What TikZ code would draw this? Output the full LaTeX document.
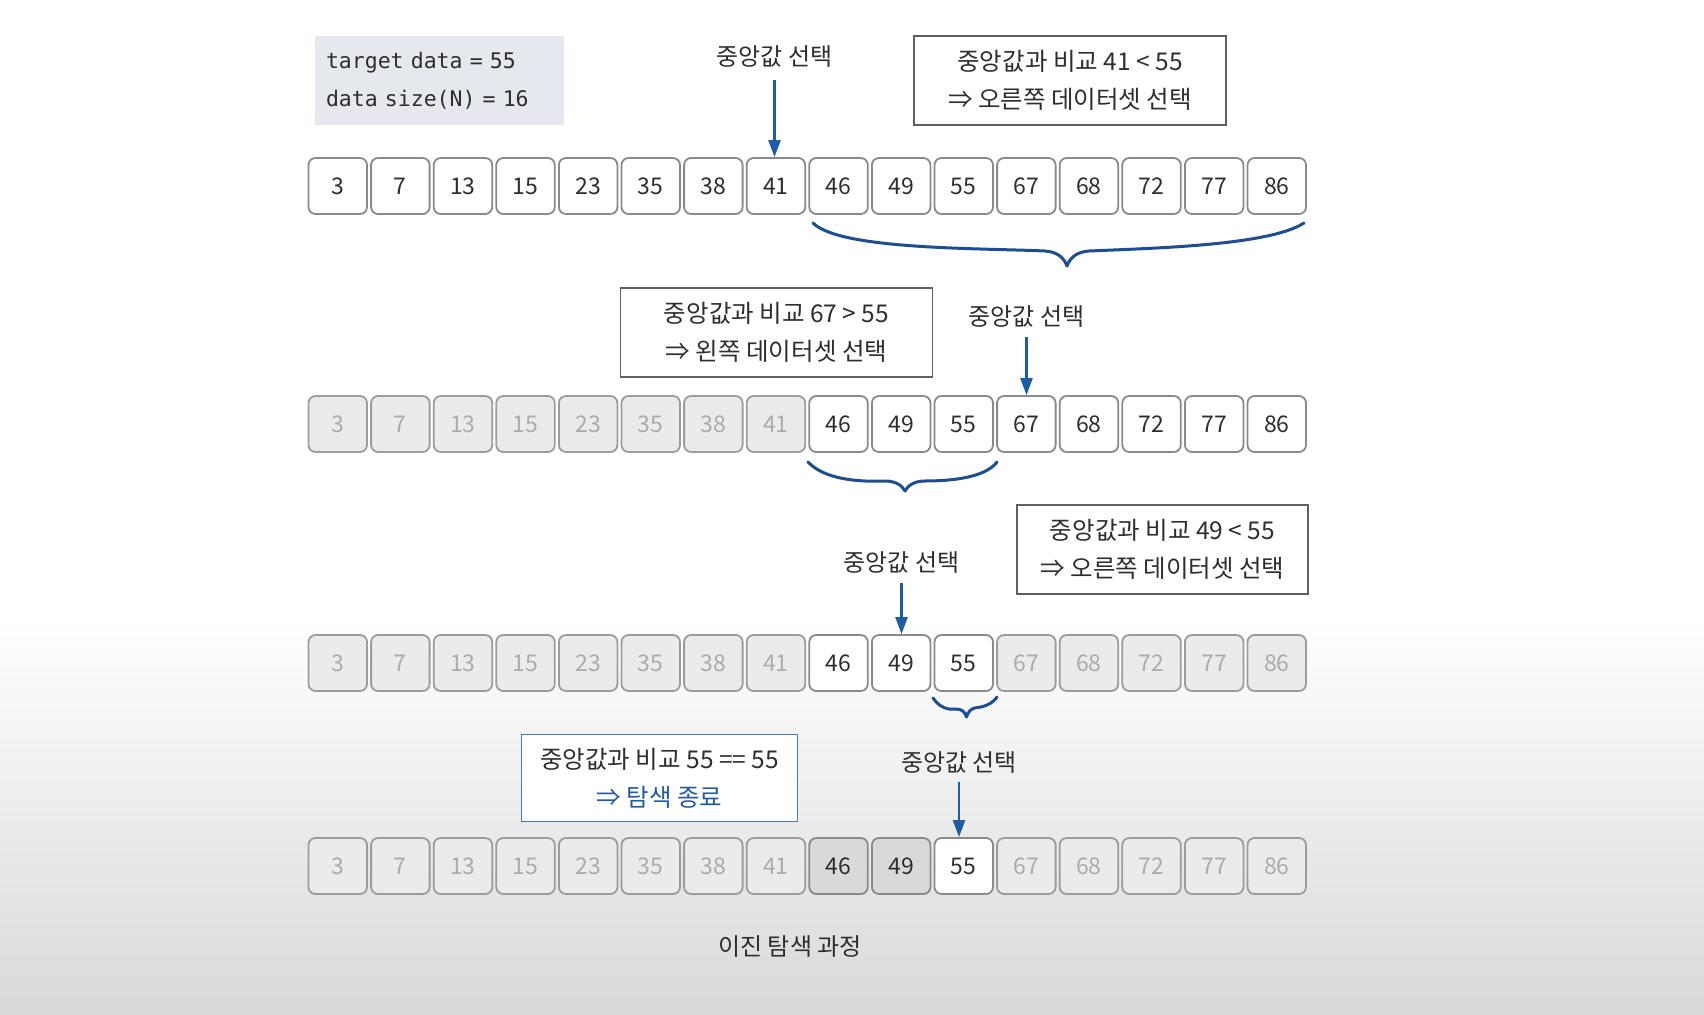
\documentclass[tikz,border=0pt]{standalone}
\usepackage{fontspec}
\setmainfont{Noto Sans CJK KR}
\newfontfamily\monof[WordSpace={1,0,0}]{DejaVu Sans Mono}
\usetikzlibrary{arrows.meta}
\definecolor{txt}{HTML}{2E2E2E}
\definecolor{bl}{HTML}{1F5CA6}
\definecolor{brc}{HTML}{1E4E92}
\definecolor{cellline}{HTML}{8A8A8A}
\definecolor{dimfill}{HTML}{EBEBEB}
\definecolor{dimtxt}{HTML}{ABABAB}
\definecolor{midfill}{HTML}{D9D9D9}
\definecolor{infofill}{HTML}{E6E8F0}
\definecolor{notebl}{HTML}{4A78B0}
\begin{document}
\begin{tikzpicture}[x=1pt,y=-1pt,
  cellw/.style={draw=cellline,line width=1.8pt,rounded corners=7pt,fill=white,
    minimum width=58.5pt,minimum height=56pt,inner sep=0pt,text=txt,
    font=\fontsize{23}{23}\selectfont},
  dim/.style={cellw,fill=dimfill,text=dimtxt,draw=cellline!85},
  mid/.style={cellw,fill=midfill},
  note/.style={draw=gray!75!black,line width=1.3pt,fill=white,align=center,
    inner sep=0pt,text=txt,font=\fontsize{24.5}{38}\selectfont},
  lbl/.style={inner sep=0pt,text=txt,font=\fontsize{24}{24}\selectfont},
  barrow/.style={draw=bl,line width=2.4pt,-{Triangle[length=17pt,width=12pt]}},
  brace/.style={draw=brc,line width=3pt,line cap=round,line join=round}]
\useasboundingbox (0,0) rectangle (1704,1014);
\fill[white] (0,0) rectangle (1704,1014);
\shade[top color=white,bottom color=black!15] (0,620) rectangle (1704,1014);

% info box
\node[fill=infofill,minimum width=249pt,minimum height=89pt,inner xsep=11pt,
  text width=227pt,align=left,text=txt,font=\monof\fontsize{21.5}{38}\selectfont]
  (info) at (439.5,80.5) {target data = 55\\data size(N) = 16};

% row 1
\foreach \v [count=\i from 0] in {3,7,13,15,23,35,38,41,46,49,55,67,68,72,77,86}
  \node[cellw] (r1c\i) at ({337.75+62.6*\i},186) {\v};
% row 2
\foreach \v/\s [count=\i from 0] in {3/dim,7/dim,13/dim,15/dim,23/dim,35/dim,38/dim,41/dim,46/cellw,49/cellw,55/cellw,67/cellw,68/cellw,72/cellw,77/cellw,86/cellw}
  \node[style=\s] (r2c\i) at ({337.75+62.6*\i},424) {\v};
% row 3
\foreach \v/\s [count=\i from 0] in {3/dim,7/dim,13/dim,15/dim,23/dim,35/dim,38/dim,41/dim,46/cellw,49/cellw,55/cellw,67/dim,68/dim,72/dim,77/dim,86/dim}
  \node[style=\s] (r3c\i) at ({337.75+62.6*\i},663) {\v};
% row 4
\foreach \v/\s [count=\i from 0] in {3/dim,7/dim,13/dim,15/dim,23/dim,35/dim,38/dim,41/dim,46/mid,49/mid,55/cellw,67/dim,68/dim,72/dim,77/dim,86/dim}
  \node[style=\s] (r4c\i) at ({337.75+62.6*\i},866) {\v};

% notes
\node[note,minimum width=312pt,minimum height=89pt] (n1) at (1070,80.5)
  {중앙값과 비교 41 < 55\\⇒ 오른쪽 데이터셋 선택};
\node[note,minimum width=312pt,minimum height=89pt] (n2) at (776.5,332.5)
  {중앙값과 비교 67 > 55\\⇒ 왼쪽 데이터셋 선택};
\node[note,minimum width=291pt,minimum height=89pt] (n3) at (1162.5,549.5)
  {중앙값과 비교 49 < 55\\⇒ 오른쪽 데이터셋 선택};
\node[note,draw=notebl,minimum width=276pt,minimum height=87pt] (n4) at (659.6,778)
  {중앙값과 비교 55 == 55\\\textcolor{bl}{⇒ 탐색 종료}};

% labels and arrows
\node[lbl] (lab1) at (774.5,57) {중앙값 선택};
\node[lbl] (lab2) at (1026.5,317) {중앙값 선택};
\node[lbl] (lab3) at (901.5,563) {중앙값 선택};
\node[lbl] (lab4) at (959,763) {중앙값 선택};
\draw[barrow] ([yshift=-12pt]lab1.south) -- (lab1.south |- r1c7.north);
\draw[barrow] ([yshift=-9pt]lab2.south) -- (lab2.south |- r2c11.north);
\draw[barrow] ([yshift=-9pt]lab3.south) -- (lab3.south |- r3c9.north);
\draw[barrow] ([yshift=-8pt]lab4.south) -- (lab4.south |- r4c10.north);

% braces
\draw[brace] (813,223) .. controls (840,250) and (980,248) .. (1045,251)
  .. controls (1058,252) and (1064,258) .. (1067,266)
  .. controls (1070,258) and (1076,252) .. (1089,251)
  .. controls (1160,248) and (1270,245) .. (1304,223);
\draw[brace] (808,462) .. controls (825,480) and (860,482) .. (885,481)
  .. controls (895,481) and (902,485) .. (905,491)
  .. controls (908,485) and (915,481) .. (925,481)
  .. controls (950,481) and (985,478) .. (997,462);
\draw[brace] (933,698) .. controls (940,708) and (948,710) .. (956,709)
  .. controls (962,709) and (965,712) .. (966.5,717)
  .. controls (968,712) and (971,708) .. (977,707.5)
  .. controls (985,707) and (993,703) .. (997,697);

% caption
\node[lbl] (cap) at (790,947) {이진 탐색 과정};
\end{tikzpicture}
\end{document}
